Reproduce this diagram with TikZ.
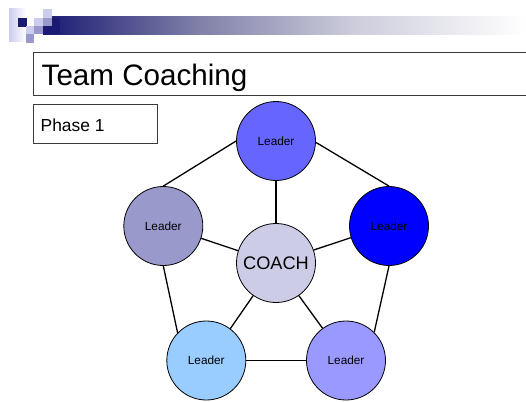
\documentclass[tikz,border=0pt]{standalone}
\usepackage{fontspec}
\setmainfont{Liberation Sans}
\usetikzlibrary{shadings}

% colours of the logo, the heading bar and the circles
\definecolor{navy}{HTML}{1A1A72}
\definecolor{logolight}{HTML}{CCCCEE}
\definecolor{logomid}{HTML}{9999CC}
\definecolor{leadtop}{HTML}{6666FF}
\definecolor{leadleft}{HTML}{9999CC}
\definecolor{leadright}{HTML}{0000FF}
\definecolor{leadbl}{HTML}{99CCFF}
\definecolor{leadbr}{HTML}{9999FF}
\definecolor{coachfill}{HTML}{CCCCE6}
\definecolor{framegray}{HTML}{3A3A3A}

% bar fading from navy to white; the path spans 25bp..75bp
\pgfdeclarehorizontalshading{headbar}{100bp}{%
  rgb(0bp)=(0.10,0.10,0.45);
  rgb(25bp)=(0.10,0.10,0.45);
  rgb(41bp)=(0.50,0.50,0.66);
  rgb(57bp)=(0.80,0.80,0.86);
  rgb(75bp)=(1,1,1);
  rgb(100bp)=(1,1,1)}

\tikzset{
  person/.style={circle, draw=black, line width=0.8pt, minimum size=79pt,
    inner sep=0pt, font=\fontsize{11.8}{12}\selectfont},
  coachnode/.style={person, fill=coachfill, font=\fontsize{18.2}{20}\selectfont},
  link/.style={line width=1.3pt, black},
  frame/.style={draw=framegray, line width=1pt, inner sep=0pt},
  label text/.style={inner sep=0pt, anchor=base west},
}

\begin{document}
\begin{tikzpicture}[x=1pt, y=-1pt]
\useasboundingbox (0,0) rectangle (526,401);

% heading bar and logo squares
\shade[shading=headbar] (43,17) rectangle (526,35);
\shade[left color=logolight, right color=white] (9,9) rectangle (26,42);
\fill[navy] (18,18) rectangle (27,27);
\fill[logolight] (26,26) rectangle (34,34);
\fill[logomid] (26,34) rectangle (34,43);
\fill[logolight] (34,18) rectangle (43,26);
\fill[logomid] (34,26) rectangle (43,34);
\fill[logolight] (43,9) rectangle (52,18);
\fill[logomid] (43,18) rectangle (52,26);
\fill[navy] (52,18) rectangle (60,34);
\fill[navy] (43,26) rectangle (52,34);

% title and phase boxes
\node[frame, anchor=north west, minimum width=500pt, minimum height=43pt]
  (titlebox) at (33,52) {};
\node[label text, font=\fontsize{29.6}{32}\selectfont] (title) at (41.5,85) {Team Coaching};
\node[frame, anchor=north west, minimum width=124pt, minimum height=39pt]
  (phasebox) at (33,104) {};
\node[label text, font=\fontsize{17.4}{19}\selectfont] (phase) at (40.5,131) {Phase 1};

% the coach and the five leaders
\node[person, fill=leadtop]   (T)  at (276,141)   {Leader};
\node[person, fill=leadleft]  (L)  at (163.3,226) {Leader};
\node[person, fill=leadright] (R)  at (389,226)   {Leader};
\node[coachnode]              (C)  at (276,263)   {COACH};
\node[person, fill=leadbl]    (BL) at (206.3,360.5) {Leader};
\node[person, fill=leadbr]    (BR) at (346,360.5) {Leader};

% connections
\draw[link] (L.90)   -- (T.180);
\draw[link] (T.-2)   -- (R.90);
\draw[link] (T.270)  -- (C.90);
\draw[link] (L.342)  -- (C.162);
\draw[link] (C.19)   -- (R.197);
\draw[link] (C.235)  -- (BL.53.5);
\draw[link] (C.305)  -- (BR.126.5);
\draw[link] (L.270)  -- (BL.136);
\draw[link] (BL.0)   -- (BR.180);
\draw[link] (R.270)  -- (BR.45);
\end{tikzpicture}
\end{document}
